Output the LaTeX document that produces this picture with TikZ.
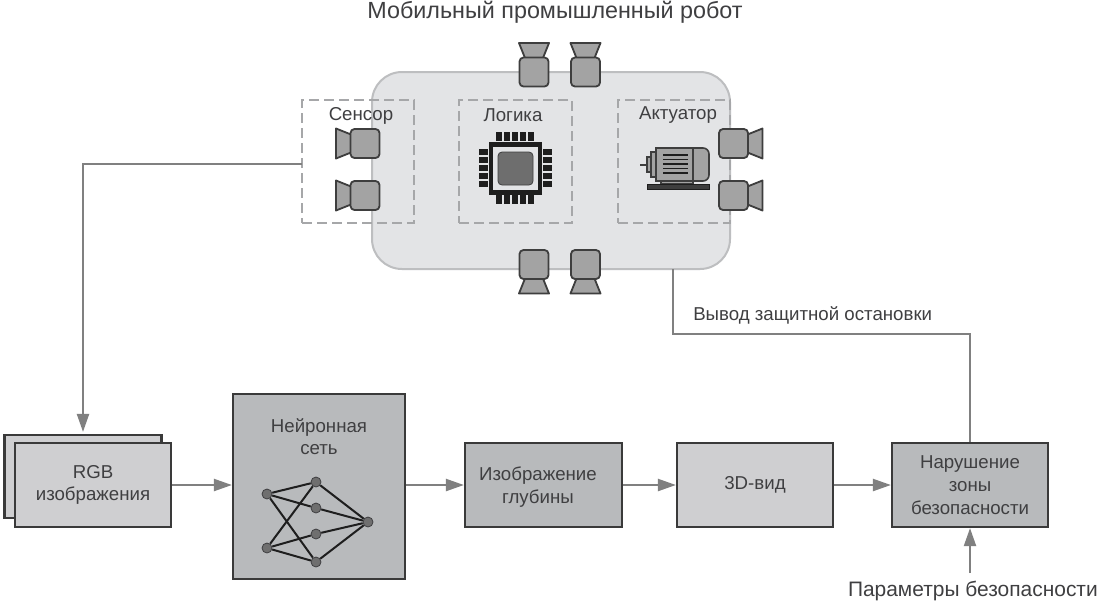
\documentclass[tikz,border=0pt]{standalone}
\usepackage{fontspec}
\setmainfont{Liberation Sans}
\usetikzlibrary{arrows.meta}
\def\px{0.75pt}
\definecolor{ink}{HTML}{3F3F41}
\definecolor{edge}{HTML}{3A3A3A}
\definecolor{flow}{HTML}{808080}
\definecolor{lightbox}{HTML}{CFCFD1}
\definecolor{darkbox}{HTML}{B8BABC}
\definecolor{robotfill}{HTML}{E3E4E6}
\definecolor{robotedge}{HTML}{BDBEC0}
\definecolor{dashc}{HTML}{A6A7A9}
\definecolor{camb}{HTML}{A3A3A3}
\definecolor{camedge}{HTML}{3E3E3E}
\definecolor{chipc}{HTML}{1E1E1E}
\definecolor{chipcore}{HTML}{6E6E6E}
\definecolor{nn}{HTML}{6F6F6F}
\tikzset{
  every node/.style={text=ink,font=\fontsize{14}{17}\selectfont,align=center},
  labeltext/.style={inner sep=0pt},
  paramtext/.style={inner sep=0pt,font=\fontsize{15.7}{17}\selectfont},
  titletext/.style={inner sep=0pt,font=\fontsize{17.5}{20}\selectfont},
  block/.style={draw=edge,line width=2.2*\px,inner sep=0pt},
  lightblock/.style={block,fill=lightbox},
  darkblock/.style={block,fill=darkbox},
  zone/.style={draw=dashc,line width=2.2*\px,dash pattern=on 10*\px off 5*\px,inner sep=0pt},
  flowline/.style={draw=flow,line width=2.2*\px},
  flowarrow/.style={flowline,-{Triangle[length=13.5pt,width=9pt,fill=flow]}},
  nnnode/.style={circle,fill=nn,draw=ink,line width=0.8*\px,minimum size=10*\px,inner sep=0pt},
  nnedge/.style={draw=chipc,line width=2*\px},
  pics/camera/.style={code={
    \draw[fill=camb,draw=camedge,line width=1.8*\px,line join=round]
      (-15,-29)--(15,-29)--(9,-14)--(-9,-14)--cycle;
    \draw[fill=camb,draw=camedge,line width=1.8*\px,rounded corners=4*\px]
      (-14.5,-14.5) rectangle (14.5,14.5);
  }},
  pin/.style={fill=chipc},
  motorpart/.style={fill=camb,draw=camedge,line width=1.6*\px},
}
\begin{document}
\begin{tikzpicture}[x=0.75pt,y=-0.75pt]
\useasboundingbox (0,0) rectangle (1102,608);
\fill[white] (0,0) rectangle (1102,608);

% robot
\node[draw=robotedge,fill=robotfill,line width=2*\px,rounded corners=30*\px,minimum width=358*\px,minimum height=197*\px,inner sep=0pt] (robot) at (551,170.5) {};
\node[zone,minimum width=112*\px,minimum height=123*\px] (sensor) at (358,161.5) {};
\node[zone,minimum width=113*\px,minimum height=123*\px] (logic) at (515.5,161.5) {};
\node[zone,minimum width=112*\px,minimum height=123*\px] (actuator) at (674,161.5) {};
\coordinate (sensorout) at (302,164);

\node[titletext] (title) at (555,12) {Мобильный промышленный робот};
\node[labeltext] (sensorlabel) at (361,115.5) {Сенсор};
\node[labeltext] (logiclabel) at (513,115.5) {Логика};
\node[labeltext] (actuatorlabel) at (678,115.5) {Актуатор};

% cameras
\pic at (534,72) {camera};
\pic at (585.5,72) {camera};
\pic[rotate=180] at (534,264.5) {camera};
\pic[rotate=180] at (585.5,264.5) {camera};
\pic[rotate=90] at (365,143.5) {camera};
\pic[rotate=90] at (365,195.5) {camera};
\pic[rotate=-90] at (733.5,143.5) {camera};
\pic[rotate=-90] at (733.5,195.5) {camera};

% chip
\foreach \v in {499,507,515,523,531}{
  \fill[pin] (\v-3,132) rectangle (\v+3,141);
  \fill[pin] (\v-3,195) rectangle (\v+3,204);
}
\foreach \v in {152,160,168,176,184}{
  \fill[pin] (479,\v-3) rectangle (488,\v+3);
  \fill[pin] (543,\v-3) rectangle (552,\v+3);
}
\draw[draw=chipc,fill=robotfill,line width=4.5*\px] (491,144.5) rectangle (540,192.5);
\fill[chipcore,rounded corners=4*\px] (498,152) rectangle (533,185);
\draw[camedge,line width=0.8*\px,rounded corners=4*\px] (498,152) rectangle (533,185);

% motor
\draw[camedge,line width=2*\px] (640,164.5)--(647,164.5);
\draw[motorpart] (647,157) rectangle (651,172);
\draw[motorpart] (651,152) rectangle (656,177);
\draw[motorpart,rounded corners=6*\px] (693,148)--(709,148)--(709,181)--(693,181);
\draw[motorpart] (656,148) rectangle (693,181);
\foreach \v in {155,159.5,164,168.5,173}{\draw[chipc,line width=1.6*\px] (663,\v)--(688,\v);}
\draw[motorpart] (661,181) rectangle (693,184);
\draw[fill=camedge,draw=chipc,line width=1*\px] (647,184.5) rectangle (709,189);

% pipeline
\node[lightblock,minimum width=157*\px,minimum height=83*\px] (rgbback) at (83,476.5) {};
\node[lightblock,minimum width=156*\px,minimum height=84*\px] (rgb) at (93,485) {RGB\\изображения};
\node[darkblock,minimum width=172*\px,minimum height=185*\px] (net) at (319,486.5) {};
\node[labeltext] (netlabel) at (319,436.5) {Нейронная\\сеть};
\node[darkblock,minimum width=157*\px,minimum height=84*\px] (depth) at (543.5,485) {};
\node[labeltext] (depthlabel) at (538,487) {Изображение\\глубины};
\node[lightblock,minimum width=156*\px,minimum height=84*\px] (view) at (755,485) {3D-вид};
\node[darkblock,minimum width=156*\px,minimum height=84*\px] (zone) at (970,485) {Нарушение\\зоны\\безопасности};

% neural network
\node[nnnode] (i1) at (267,494) {};
\node[nnnode] (i2) at (267,548) {};
\node[nnnode] (m1) at (316,482) {};
\node[nnnode] (m2) at (316,508) {};
\node[nnnode] (m3) at (316,534) {};
\node[nnnode] (m4) at (316,562) {};
\node[nnnode] (o) at (368,522) {};
\foreach \a/\b in {i1/m1,i1/m2,i1/m4,i2/m1,i2/m3,i2/m4,m1/o,m2/o,m3/o,m4/o}{\draw[nnedge] (\a)--(\b);}

% connectors
\draw[flowarrow] (sensorout) -| ([yshift=1.5pt]rgbback.north);
\draw[flowarrow] (rgb.east) -- (net.west |- rgb.east);
\draw[flowarrow] (net.east |- depth.west) -- (depth.west);
\draw[flowarrow] (depth.east) -- (view.west);
\draw[flowarrow] (view.east) -- (zone.west);
\coordinate (stopout) at (673,269);
\coordinate (stopturn) at (673,334);
\draw[flowline] (zone.north) |- (stopturn) -- (stopout);
\node[labeltext,anchor=west] (stoplabel) at (693,315.5) {Вывод защитной остановки};
\node[paramtext,anchor=east] (paramlabel) at (1098,590.5) {Параметры безопасности};
\coordinate (paramout) at (970,573);
\draw[flowarrow] (paramout) -- (zone.south);
\end{tikzpicture}
\end{document}
